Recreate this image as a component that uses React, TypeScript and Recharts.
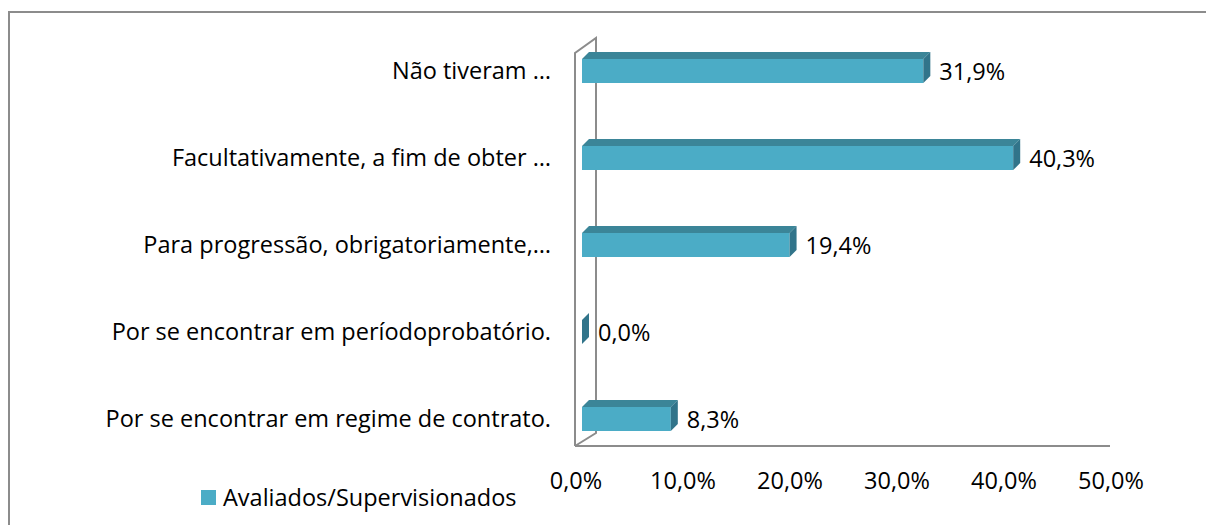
import { Bar, BarChart, LabelList, XAxis, YAxis, usePlotArea } from "recharts";

const categories = [
  "Não tiveram …",
  "Facultativamente, a fim de obter  …",
  "Para progressão, obrigatoriamente,…",
  "Por se encontrar em períodoprobatório.",
  "Por se encontrar em regime de contrato.",
];
const values = [0.319, 0.403, 0.194, 0.0, 0.083];
const xTicks = [0, 0.1, 0.2, 0.3, 0.4, 0.5];
const seriesName = "Avaliados/Supervisionados";

const FONT = "'Open Sans', sans-serif";
const FS = 23.5;
const FRONT = "#4bacc6";
const TOP = "#3b8598";
const SIDE = "#31748a";
const DEPTH = 7;

const data = categories.map((c, i) => ({ name: c, value: values[i] }));
const pct = (v: number) => `${(v * 100).toFixed(1).replace(".", ",")}%`;

function Bar3D(props: any) {
  const { x, y, width, height } = props;
  const w = Math.max(0, width);
  return (
    <g>
      <polygon
        points={`${x},${y} ${x + DEPTH},${y - DEPTH} ${x + w + DEPTH},${y - DEPTH} ${x + w},${y}`}
        fill={TOP}
      />
      <rect x={x} y={y} width={w} height={height} fill={FRONT} />
      <polygon
        points={`${x + w},${y} ${x + w + DEPTH},${y - DEPTH} ${x + w + DEPTH},${y + height - DEPTH} ${x + w},${y + height}`}
        fill={SIDE}
      />
    </g>
  );
}

// Back wall / floor frame of the 3D plot
function Walls() {
  const p = usePlotArea();
  if (!p) return null;
  const fx = p.x - DEPTH;
  const bx = p.x + 2 * DEPTH;
  const top = p.y + 11;
  const floor = p.y + p.height - 16;
  const stroke = "#8c8c8c";
  return (
    <g fill="none" stroke={stroke} strokeWidth={2}>
      <polyline points={`${fx},${floor} ${fx},${top + 15} ${bx},${top} ${bx},${floor - 13} ${fx},${floor}`} />
      <line x1={fx} y1={floor} x2={p.x + p.width - DEPTH} y2={floor} />
    </g>
  );
}

function DataLabel(props: any) {
  const { x, y, width, height, value } = props;
  return (
    <text
      x={x + width + DEPTH + 9}
      y={y + height / 2}
      dominantBaseline="central"
      fontFamily={FONT}
      fontSize={FS}
      fill="#000"
    >
      {pct(value)}
    </text>
  );
}

export default function App() {
  return (
    <div style={{ position: "absolute", left: 0, top: 0, width: 1206, height: 525, overflow: "hidden", background: "#fff" }}>
      <div
        style={{
          position: "absolute",
          left: 8,
          top: 11,
          width: 1300,
          height: 600,
          borderLeft: "2px solid #8c8c8c",
          borderTop: "2px solid #8c8c8c",
        }}
      />
      <BarChart
        width={1206}
        height={525}
        data={data}
        layout="vertical"
        margin={{ top: 27, right: 89, bottom: 0, left: 0 }}
        barCategoryGap={0}
        style={{ position: "absolute", left: 0, top: 0 }}
      >
        <Walls />
        <XAxis
          type="number"
          domain={[0, 0.5]}
          ticks={xTicks}
          tickFormatter={pct}
          axisLine={false}
          tickLine={false}
          tickMargin={4}
          height={63}
          tick={{ fontFamily: FONT, fontSize: FS, fill: "#000", dx: -6 }}
        />
        <YAxis
          type="category"
          dataKey="name"
          width={582}
          axisLine={false}
          tickLine={false}
          tickMargin={25}
          tick={{ fontFamily: FONT, fontSize: FS, fill: "#000", style: { whiteSpace: "pre" } }}
        />
        <Bar dataKey="value" name={seriesName} barSize={24} shape={<Bar3D />} isAnimationActive={false}>
          <LabelList dataKey="value" content={<DataLabel />} />
        </Bar>
      </BarChart>
      <div
        style={{
          position: "absolute",
          left: 201,
          top: 481,
          display: "flex",
          alignItems: "center",
          fontFamily: FONT,
          fontSize: FS,
          color: "#000",
          whiteSpace: "nowrap",
        }}
      >
        <span style={{ width: 15, height: 15, background: FRONT, marginRight: 7, display: "inline-block" }} />
        {seriesName}
      </div>
    </div>
  );
}
